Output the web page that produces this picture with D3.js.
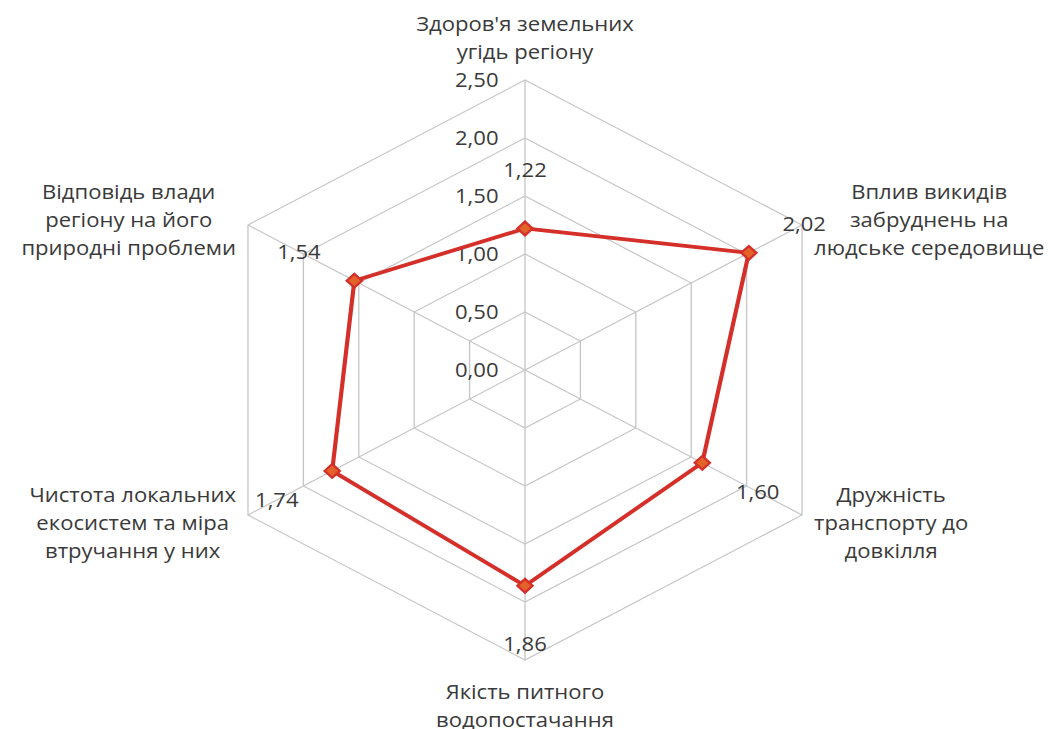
<!DOCTYPE html>
<html>
<head>
<meta charset="utf-8">
<script src="https://cdn.jsdelivr.net/npm/d3@7"></script>
<style>
  body { margin: 0; background: #fff; }
  text { font-family: "Open Sans", sans-serif; fill: #3a3a3a; }
</style>
</head>
<body>
<div id="chart"></div>
<script>
// categories, clockwise from the top
var categories = [
  ["Здоров'я земельних", "угідь регіону"],
  ["Вплив викидів", "забруднень на", "людське середовище"],
  ["Дружність", "транспорту до", "довкілля"],
  ["Якість питного", "водопостачання"],
  ["Чистота локальних", "екосистем та міра", "втручання у них"],
  ["Відповідь влади", "регіону на його", "природні проблеми"]
];
var values = [1.22, 2.02, 1.60, 1.86, 1.74, 1.54];
var ticks = [0, 0.5, 1, 1.5, 2, 2.5];

var width = 1061, height = 729;
var cx = 525, cy = 370;
var sx = 1.103; // the picture is a bit wider than tall

var fmt = function(v) { return d3.format('.2f')(v).replace('.', ','); };

var svg = d3.select('#chart').append('svg')
    .attr('width', width)
    .attr('height', height);

var g = svg.append('g')
    .attr('transform', `translate(${cx}, ${cy}) scale(${sx}, 1)`);

var r = d3.scaleLinear().domain([0, 2.5]).range([0, 290]);
var angle = d3.scaleLinear().domain([0, categories.length]).range([-Math.PI / 2, Math.PI * 1.5]);

function pt(i, v) {
  var a = angle(i);
  return [r(v) * Math.cos(a), r(v) * Math.sin(a)];
}

var idx = d3.range(categories.length);

// hexagon grid
g.selectAll('.grid')
  .data(ticks.slice(1))
  .enter()
  .append('polygon')
    .attr('class', 'grid')
    .attr('points', t => idx.map(i => pt(i, t).join(',')).join(' '))
    .attr('fill', 'none')
    .attr('stroke', '#c6c6c6')
    .attr('stroke-width', 1.2);

// spokes
g.selectAll('.spoke')
  .data(idx)
  .enter()
  .append('line')
    .attr('class', 'spoke')
    .attr('x1', 0).attr('y1', 0)
    .attr('x2', i => pt(i, 2.5)[0])
    .attr('y2', i => pt(i, 2.5)[1])
    .attr('stroke', '#c6c6c6')
    .attr('stroke-width', 1.2);

// axis tick labels
g.selectAll('.tick-label')
  .data(ticks)
  .enter()
  .append('text')
    .attr('class', 'tick-label')
    .attr('x', -24)
    .attr('y', t => -r(t))
    .attr('dy', '0.35em')
    .attr('text-anchor', 'end')
    .style('font-size', '20px')
    .text(fmt);

// series line
var line = d3.line().curve(d3.curveLinearClosed);
g.append('path')
  .datum(idx.map(i => pt(i, values[i])))
  .attr('d', line)
  .attr('fill', 'none')
  .attr('stroke', '#d42f29')
  .attr('stroke-width', 3.8)
  .attr('stroke-linejoin', 'round');

// diamond markers
g.selectAll('.marker')
  .data(idx)
  .enter()
  .append('path')
    .attr('class', 'marker')
    .attr('d', d3.symbol().type(d3.symbolDiamond2).size(120))
    .attr('transform', i => `translate(${pt(i, values[i])})`)
    .attr('fill', '#e2622a')
    .attr('stroke', '#d42f29')
    .attr('stroke-width', 2.2);

// value labels, a half step further out along each axis
g.selectAll('.value-label')
  .data(idx)
  .enter()
  .append('text')
    .attr('class', 'value-label')
    .attr('x', i => pt(i, values[i] + 0.5)[0])
    .attr('y', i => pt(i, values[i] + 0.5)[1])
    .attr('dy', '0.35em')
    .attr('text-anchor', 'middle')
    .style('font-size', '20px')
    .text(i => fmt(values[i]));

// category labels
var lineH = 28.5;
var gap = 12 / sx;
idx.forEach(function(i) {
  var v = pt(i, 2.5);
  var lines = categories[i];
  var t = g.append('text')
      .attr('text-anchor', 'middle')
      .style('font-size', '20px');
  lines.forEach(function(s, k) {
    t.append('tspan').attr('x', 0).attr('y', k * lineH).attr('dy', '0.35em').text(s);
  });
  var maxW = d3.max(t.selectAll('tspan').nodes(), n => n.getComputedTextLength());
  var n = lines.length;
  var x, y;
  if (Math.abs(v[0]) < 1) {
    x = 0;
    // top block sits above the vertex, bottom block below it
    y = v[1] < 0 ? v[1] - 28 - (n - 1) * lineH : v[1] + 32;
  } else {
    x = v[0] + (v[0] > 0 ? 1 : -1) * (gap + maxW / 2);
    var mid = v[1] < 0 ? v[1] - 5 : v[1] + 8;
    y = mid - (n - 1) * lineH / 2;
  }
  t.attr('transform', `translate(${x}, ${y})`);
});
</script>
</body>
</html>
